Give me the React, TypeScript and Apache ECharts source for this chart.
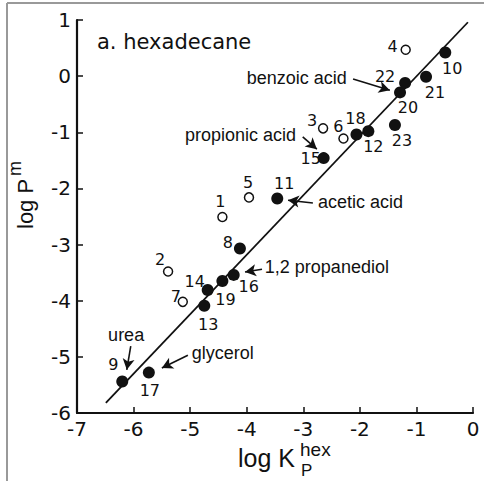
import React, { useEffect, useRef } from "react";
import * as echarts from "echarts";

// Compound ids and measured values (log K_P^hex, log P^m)
const openIds = ["1", "2", "3", "4", "5", "6", "7"];
const openX = [-4.43, -5.39, -2.65, -1.19, -3.96, -2.29, -5.13];
const openY = [-2.51, -3.48, -0.93, 0.47, -2.16, -1.11, -4.02];

const filledIds = ["8", "9", "10", "11", "12", "13", "14", "15", "16", "17", "18", "19", "20", "21", "22", "23"];
const filledX = [-4.12, -6.2, -0.49, -3.46, -1.85, -4.75, -4.69, -2.64, -4.23, -5.73, -2.06, -4.43, -1.29, -0.83, -1.2, -1.38];
const filledY = [-3.07, -5.44, 0.42, -2.18, -0.98, -4.09, -3.81, -1.46, -3.54, -5.28, -1.04, -3.65, -0.29, -0.01, -0.12, -0.87];

// Regression line end points
const lineX = [-6.49, -0.09];
const lineY = [-5.82, 0.96];

// Axis ticks
const xTicks = [-7, -6, -5, -4, -3, -2, -1, 0];
const yTicks = [-6, -5, -4, -3, -2, -1, 0, 1];

// Annotations (text anchor, arrow tail, arrow head) in data units
const annText = ["urea", "glycerol", "1,2 propanediol", "acetic acid", "propionic acid", "benzoic acid"];
const annX = [-6.45, -4.97, -3.68, -2.74, -5.09, -4.0];
const annY = [-4.61, -4.93, -3.4, -2.24, -1.05, -0.03];
const arrowTail = [[-6.05, -4.81], [-5.04, -4.97], [-3.73, -3.44], [-2.83, -2.26], [-3.01, -1.08], [-2.12, -0.05]];
const arrowHead = [[-6.12, -5.23], [-5.5, -5.2], [-4.03, -3.49], [-3.27, -2.21], [-2.76, -1.3], [-1.47, -0.25]];

// Label placement (style) for each compound number, pixel offsets from the marker
const labelOffset: Record<string, [number, number]> = {
  "1": [-2, -16], "2": [-8, -12], "3": [-11, -8], "4": [-13, -3], "5": [-1, -15], "6": [-5, -12], "7": [-7, -5],
  "8": [-12, -6], "9": [-9, -17], "10": [7, 16], "11": [7, -15], "12": [5, 15], "13": [4, 19], "14": [-13, -9],
  "15": [-13, 0], "16": [15, 12], "17": [1, 18], "18": [-1, -16], "19": [3, 18], "20": [8, 15], "21": [9, 16],
  "22": [-20, -6], "23": [7, 16],
};

const numFont = "DejaVu Sans";
const textFont = "Liberation Sans, Arial, sans-serif";
const ink = "#111";

export default function App() {
  const ref = useRef<HTMLDivElement>(null);
  useEffect(() => {
    document.body.style.margin = "0";
    if (!ref.current) return;
    const chart = echarts.init(ref.current, null, { renderer: "svg" });

    const mkPts = (ids: string[], xs: number[], ys: number[]) =>
      ids.map((id, i) => ({
        value: [xs[i], ys[i]],
        name: id,
        label: { offset: labelOffset[id] },
      }));

    const pointLabel = {
      show: true,
      position: "inside" as const,
      formatter: (p: any) => p.name,
      fontFamily: numFont,
      fontSize: 16,
      color: ink,
      opacity: 1,
      align: "center" as const,
      verticalAlign: "middle" as const,
    };

    const axisCommon = {
      type: "value",
      interval: 1,
      axisLine: { onZero: false, lineStyle: { color: ink, width: 2.2 } },
      axisTick: { inside: true, length: 6, lineStyle: { color: ink, width: 1.5 } },
      axisLabel: { fontFamily: numFont, fontSize: 20, color: ink, margin: 6 },
      splitLine: { show: false },
    };

    chart.setOption({
      animation: false,
      grid: { left: 77, top: 20, right: 11, bottom: 68 },
      xAxis: { ...axisCommon, min: xTicks[0], max: xTicks[xTicks.length - 1] },
      yAxis: { ...axisCommon, min: yTicks[0], max: yTicks[yTicks.length - 1] },
      series: [
        {
          type: "line",
          data: lineX.map((x, i) => [x, lineY[i]]),
          symbol: "none",
          lineStyle: { color: ink, width: 1.8 },
          silent: true,
          z: 1,
        },
        {
          type: "scatter",
          data: mkPts(filledIds, filledX, filledY),
          symbol: "circle",
          symbolSize: 12,
          itemStyle: { color: ink, opacity: 1 },
          label: pointLabel,
          z: 3,
        },
        {
          type: "scatter",
          data: mkPts(openIds, openX, openY),
          symbol: "circle",
          symbolSize: 9,
          itemStyle: { color: "#fff", borderColor: ink, borderWidth: 1.5, opacity: 1 },
          label: pointLabel,
          z: 3,
        },
        {
          type: "scatter",
          data: annText.map((t, i) => ({ value: [annX[i], annY[i]], name: t })),
          symbolSize: 0,
          silent: true,
          itemStyle: { opacity: 1 },
          label: {
            show: true,
            position: "right",
            distance: 0,
            formatter: (p: any) => p.name,
            fontFamily: textFont,
            fontSize: 18,
            color: ink,
            opacity: 1,
          },
          markLine: {
            silent: true,
            animation: false,
            symbol: ["none", "arrow"],
            symbolSize: [9, 11],
            label: { show: false },
            lineStyle: { color: ink, width: 1.6, type: "solid", opacity: 1 },
            data: arrowTail.map((t, i) => [{ coord: t }, { coord: arrowHead[i] }]),
          },
          z: 2,
        },
      ],
      graphic: [
        { type: "line", shape: { x1: 7, y1: 3, x2: 7, y2: 481 }, style: { stroke: "#999", lineWidth: 2 } },
        { type: "line", shape: { x1: 7, y1: 3, x2: 484, y2: 3 }, style: { stroke: "#999", lineWidth: 2 } },
        {
          type: "text",
          left: 97,
          top: 31,
          style: { text: "a. hexadecane", fontFamily: numFont, fontSize: 21, fill: ink },
        },
        {
          type: "group",
          x: 238,
          y: 470,
          children: [
            { type: "text", x: 0, y: 0, style: { text: "log K", fontFamily: textFont, fontSize: 25, fill: ink, verticalAlign: "bottom" } },
            { type: "text", x: 62, y: -11, style: { text: "hex", fontFamily: textFont, fontSize: 19, fill: ink, verticalAlign: "bottom" } },
            { type: "text", x: 63, y: 9, style: { text: "P", fontFamily: textFont, fontSize: 17, fill: ink, verticalAlign: "bottom" } },
          ],
        },
        {
          type: "group",
          x: 25,
          y: 229,
          rotation: Math.PI / 2,
          children: [
            { type: "text", x: 0, y: 0, style: { text: "log P", fontFamily: textFont, fontSize: 22, fill: ink, verticalAlign: "middle" } },
            { type: "text", x: 53, y: -10, style: { text: "m", fontFamily: textFont, fontSize: 18, fill: ink, verticalAlign: "middle" } },
          ],
        },
      ],
    });
    return () => chart.dispose();
  }, []);
  return <div ref={ref} style={{ width: 484, height: 481 }} />;
}
